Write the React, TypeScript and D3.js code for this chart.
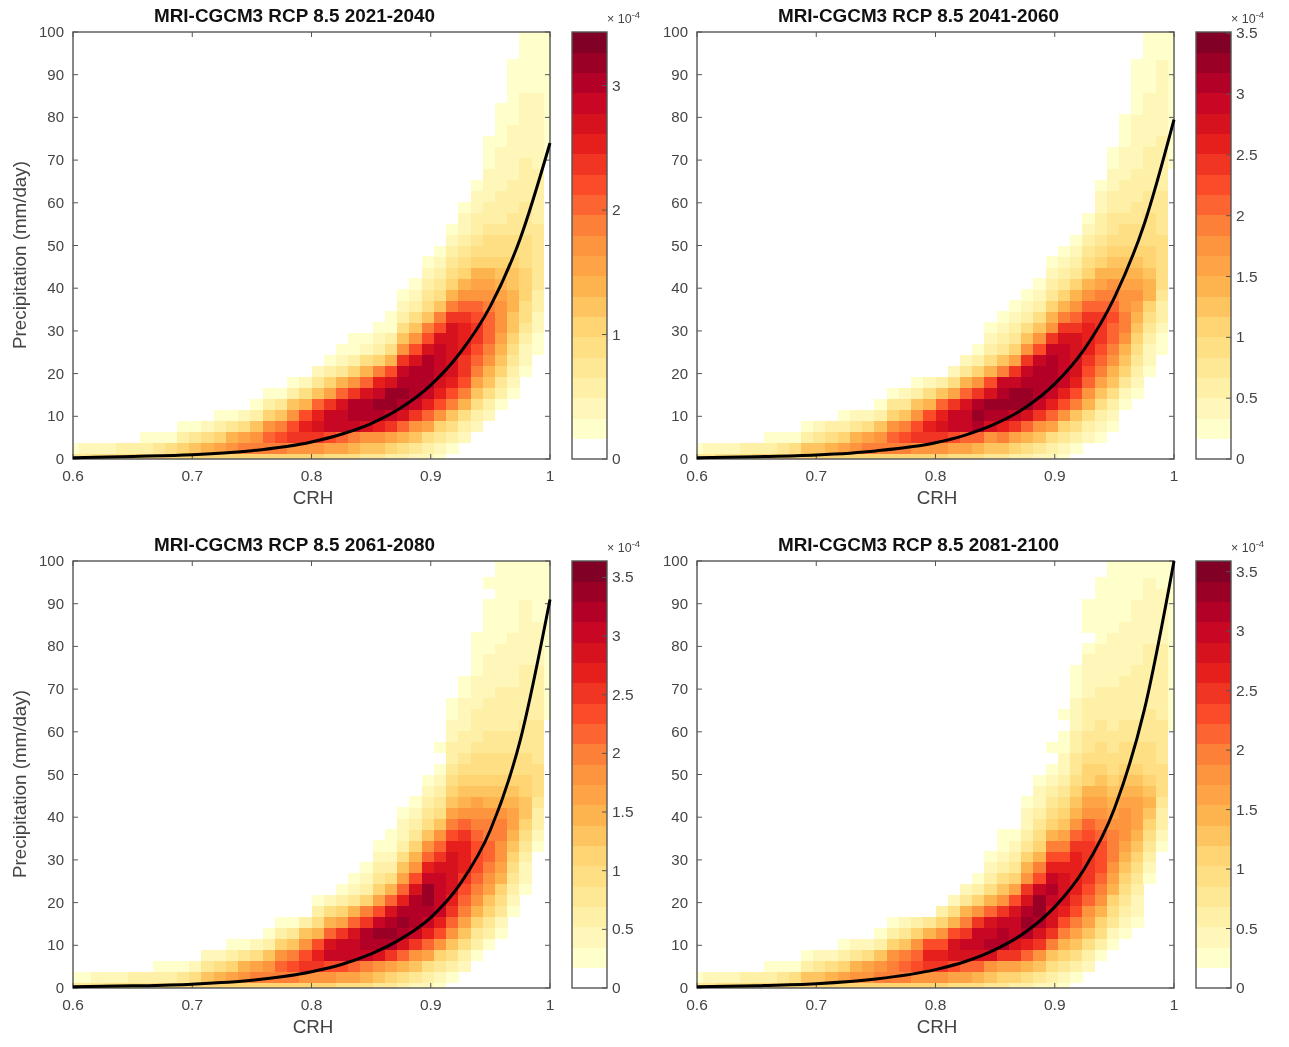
import * as d3 from "d3";

/* Grid: 40 CRH bins by 40 precipitation bins, one string per CRH bin, one
   base-36 colour-bar level per precipitation bin (bottom row first). */
const BIN_COUNT = 40;

const LEVELS_2021_2040 = [
  "41", "42", "52", "52", "53", "63", "631", "641", "651", "6631",
  "6741", "6852", "69631", "6a841", "6b952", "6ba731", "6bca631", "6bdb741", "6aeda731", "6aefd852",
  "6aegfc742", "59dhhe9631", "59chhgc8421", "58bhiiea6311", "47agiigc8521", "47afijhfb6321", "369ehjjgd85311", "358cgijihea75321", "247aehiiigda75321", "2359cfhiiigdb754321",
  "1246adfghhhgdb754321", "01357bdfgggggeb8654321", "002358bdeefffeca86543221", "00023579bcdeedca9865433221", "000023578abcccba98655433222111",
  "000001346789aaa987655433322221111",
  "0000001234567788776554433322222111111",
  "0000000012234556665554443333222222111111",
  "0000000000112233444444333332222222111111",
  "0000000000000000000000000000111111111111",
];

const LEVELS_2041_2060 = [
  "41", "42", "52", "52", "53", "63", "631", "641", "651", "6731",
  "6742", "6853", "69631", "6a842", "6b952", "6ba731", "6bca641", "6bdb742", "6aeda731", "6aefd852",
  "6aegfc73", "59dhhe952", "59chhgc842", "58cijiea631", "47agijgd85321", "47bfijihb74321", "369ehjjhe964321", "358cgjjihea75321", "247aehiiihda75321", "2359cfhiiihea864321",
  "1246adfhhhhgeb864321", "01357bdfggggeca864321", "002358acdefffeca8654321", "00123579bcdeeecb9865433221", "000123578abccdcba876544332211",
  "00000124678abbaa9876554333222111",
  "000000123456789a987655443332222211111",
  "0000000012234568876655544333322222111111",
  "0000000000112334555554444333332222222111",
  "0000000000000000000000000001111111111111",
];

const LEVELS_2061_2080 = [
  "41", "41", "42", "52", "52", "53", "53", "631", "631", "641",
  "652", "6742", "6852", "69631", "6a841", "6b952", "6ba731", "6bca631", "6bdb741", "6aeda73",
  "6aefd8531", "6adhgc852", "59dhhe9631", "59chhgc8421", "58bhiieb6321", "47agijhd964321", "469eijigc853211", "358cgijifc9753221", "247aehiiigda864321", "2359cfhijjhfca754321",
  "1246adfhhhhgeca75432101", "01357acefggggfdb97654332211", "0023579bcdefffeca876543322211", "00013468abcdddcba9765543332221111", "0000134679abccbba876554433322221111101",
  "000001245689aabba87655443333222211111111",
  "0000000123456789987655443333222221111111",
  "0000000001223456776655444333332222221111",
  "0000000000000123345554444333332222111111",
  "0000000000000000000000000111111111111111",
];

const LEVELS_2081_2100 = [
  "41", "42", "52", "52", "53", "63", "631", "641", "651", "6731",
  "6742", "6852", "69631", "6a842", "6a952", "6ba731", "6bba631", "6bcb742", "6adca63", "6aefd84",
  "6aefda63", "59dggd852", "59cgheb842", "58cghhea631", "47agihgc85321", "469eiihea753211", "369eghhgd964321", "358cfijigea8643221", "247aegijjhdb86543221", "2357begghihfdb865432101",
  "12468bdfgggfdb976543221101", "013579bdeffffeca87654433222111", "0023579acdeeeedca9866544333222210111", "00013568abcdddcba987655443332222111111", "00001245689abbba987655443333222221111111",
  "00000123456789aaa98765544333322222111111",
  "0000001223456789998765544333332222221111",
  "0000000000123456787655544433333322222211",
  "0000000000000123345554444333333322222111",
  "0000000000000000000000001111111111111111",
];

/* Black curve: precipitation (mm/day) read at these CRH values */
const CURVE_CRH = [0.6, 0.65, 0.7, 0.75, 0.8, 0.825, 0.85, 0.875, 0.9, 0.925, 0.95, 0.975, 1];
const CURVE_2021_2040 = [0.3, 0.6, 1, 1.95, 4, 5.8, 8.3, 12, 17.3, 25, 35.8, 51.6, 74];
const CURVE_2041_2060 = [0.3, 0.55, 0.95, 1.9, 3.8, 5.6, 8.2, 12, 17.6, 25.8, 37.8, 55, 79.5];
const CURVE_2061_2080 = [0.3, 0.5, 0.9, 1.8, 3.8, 5.5, 8, 11.5, 16.5, 24.5, 37, 58, 91];
const CURVE_2081_2100 = [0.3, 0.55, 1, 2.1, 4.3, 6.2, 9, 13, 19, 28, 42, 65, 100];

const X_TICKS = [0.6, 0.7, 0.8, 0.9, 1];
const Y_TICKS = [0, 10, 20, 30, 40, 50, 60, 70, 80, 90, 100];

const COLORBAR_MAX = [3.43, 3.51, 3.64, 3.59];
const COLORBAR_TICKS = [
  [0, 1, 2, 3],
  [0, 0.5, 1, 1.5, 2, 2.5, 3, 3.5],
  [0, 0.5, 1, 1.5, 2, 2.5, 3, 3.5],
  [0, 0.5, 1, 1.5, 2, 2.5, 3, 3.5],
];

const PERIODS = ["2021-2040", "2041-2060", "2061-2080", "2081-2100"];
const ALL_LEVELS = [LEVELS_2021_2040, LEVELS_2041_2060, LEVELS_2061_2080, LEVELS_2081_2100];
const ALL_CURVES = [CURVE_2021_2040, CURVE_2041_2060, CURVE_2061_2080, CURVE_2081_2100];

/* Theme and layout */
const FONT = "'Liberation Sans', Arial, sans-serif";
const AXIS = "#555";
const LABEL = "#444";
const COLOR_STOPS = ["#ffffcc", "#ffeda0", "#fed976", "#feb24c", "#fd8d3c", "#fc4e2a", "#e31a1c", "#bd0026", "#800026"];
const LEVEL_COUNT = 21;
const interpolateLevel = d3.piecewise(d3.interpolateRgb, COLOR_STOPS);
const LEVEL_COLORS = d3.range(LEVEL_COUNT).map((i) => (i === 0 ? "#ffffff" : interpolateLevel((i - 1) / (LEVEL_COUNT - 2))));

const AXES_W = 477;
const AXES_H = 427;
const BAR_GAP = 22;
const BAR_W = 35;
const ORIGINS = [
  [73, 32],
  [697, 32],
  [73, 561],
  [697, 561],
];

function Panel({ index }: { index: number }) {
  const [left, top] = ORIGINS[index];
  const right = left + AXES_W;
  const bottom = top + AXES_H;

  const x = d3.scaleLinear().domain([0.6, 1]).range([left, right]);
  const y = d3.scaleLinear().domain([0, 100]).range([bottom, top]);

  /* Bins are centred on evenly spaced values, so the edge bins are half cut by the frame */
  const xStep = 0.4 / (BIN_COUNT - 1);
  const yStep = 100 / (BIN_COUNT - 1);

  const cells: { key: string; x: number; y: number; w: number; h: number; fill: string }[] = [];
  ALL_LEVELS[index].forEach((col, i) => {
    const x0 = x(Math.max(0.6, 0.6 + (i - 0.5) * xStep));
    const x1 = x(Math.min(1, 0.6 + (i + 0.5) * xStep));
    col.split("").forEach((ch, j) => {
      const level = parseInt(ch, 36);
      if (!level) return;
      const y0 = y(Math.max(0, (j - 0.5) * yStep));
      const y1 = y(Math.min(100, (j + 0.5) * yStep));
      cells.push({ key: `${i}-${j}`, x: x0, y: y1, w: x1 - x0, h: y0 - y1, fill: LEVEL_COLORS[level] });
    });
  });

  const curve = d3
    .line<number>()
    .x((_, i) => x(CURVE_CRH[i]))
    .y((d) => y(d))
    .curve(d3.curveMonotoneX)(ALL_CURVES[index]);

  /* Colour bar */
  const barLeft = right + BAR_GAP;
  const barRight = barLeft + BAR_W;
  const barMax = COLORBAR_MAX[index];
  const barY = d3.scaleLinear().domain([0, barMax]).range([bottom, top]);
  const bandH = AXES_H / LEVEL_COUNT;

  return (
    <g fontFamily={FONT}>
      <text x={left + 221.5} y={top - 10} textAnchor="middle" fontSize={18.9} fontWeight="bold" fill="#111">
        {`MRI-CGCM3 RCP 8.5 ${PERIODS[index]}`}
      </text>

      <g shapeRendering="crispEdges" style={{ filter: "blur(0.7px)" }}>
        {cells.map((c) => (
          <rect key={c.key} x={c.x} y={c.y} width={c.w + 0.4} height={c.h + 0.4} fill={c.fill} />
        ))}
      </g>

      <rect x={left} y={top} width={AXES_W} height={AXES_H} fill="none" stroke={AXIS} strokeWidth={1.4} />

      {X_TICKS.map((t) => (
        <g key={t}>
          <line x1={x(t)} x2={x(t)} y1={bottom} y2={bottom - 5} stroke={AXIS} />
          <line x1={x(t)} x2={x(t)} y1={top} y2={top + 5} stroke={AXIS} />
          <text x={x(t)} y={bottom + 22} textAnchor="middle" fontSize={15.5} fill={LABEL}>
            {t}
          </text>
        </g>
      ))}
      {Y_TICKS.map((t) => (
        <g key={t}>
          <line x1={left} x2={left + 5} y1={y(t)} y2={y(t)} stroke={AXIS} />
          <line x1={right} x2={right - 5} y1={y(t)} y2={y(t)} stroke={AXIS} />
          <text x={left - 9} y={y(t) + 5} textAnchor="end" fontSize={15} fill={LABEL}>
            {t}
          </text>
        </g>
      ))}

      <path d={curve ?? ""} fill="none" stroke="#000" strokeWidth={3} />

      <text x={left + 240} y={bottom + 45} textAnchor="middle" fontSize={18.8} fill={LABEL}>
        CRH
      </text>
      {index % 2 === 0 && (
        <text
          transform={`translate(${left - 47},${top + 223}) rotate(-90)`}
          textAnchor="middle"
          fontSize={18.8}
          fill={LABEL}
        >
          Precipitation (mm/day)
        </text>
      )}

      <g shapeRendering="crispEdges">
        {LEVEL_COLORS.map((c, i) => (
          <rect key={c + i} x={barLeft} y={bottom - (i + 1) * bandH} width={BAR_W} height={bandH + 0.4} fill={c} />
        ))}
      </g>
      <rect x={barLeft} y={top} width={BAR_W} height={AXES_H} fill="none" stroke={AXIS} strokeWidth={1.4} />
      {COLORBAR_TICKS[index].map((t) => (
        <g key={t}>
          <line x1={barRight} x2={barRight - 5} y1={barY(t)} y2={barY(t)} stroke={AXIS} />
          <text x={barRight + 5} y={barY(t) + 5} fontSize={15.5} fill={LABEL}>
            {t}
          </text>
        </g>
      ))}
      <text x={barLeft + 35} y={top - 9} fontSize={12.5} fill={LABEL}>
        {"× 10"}
        <tspan dy={-5} fontSize={9.5}>
          -4
        </tspan>
      </text>
    </g>
  );
}

export default function App() {
  return (
    <svg
      width={1289}
      height={1047}
      style={{ position: "absolute", left: 0, top: 0, background: "#fff", filter: "blur(0.5px)" }}
    >
      {PERIODS.map((p, i) => (
        <Panel key={p} index={i} />
      ))}
    </svg>
  );
}
